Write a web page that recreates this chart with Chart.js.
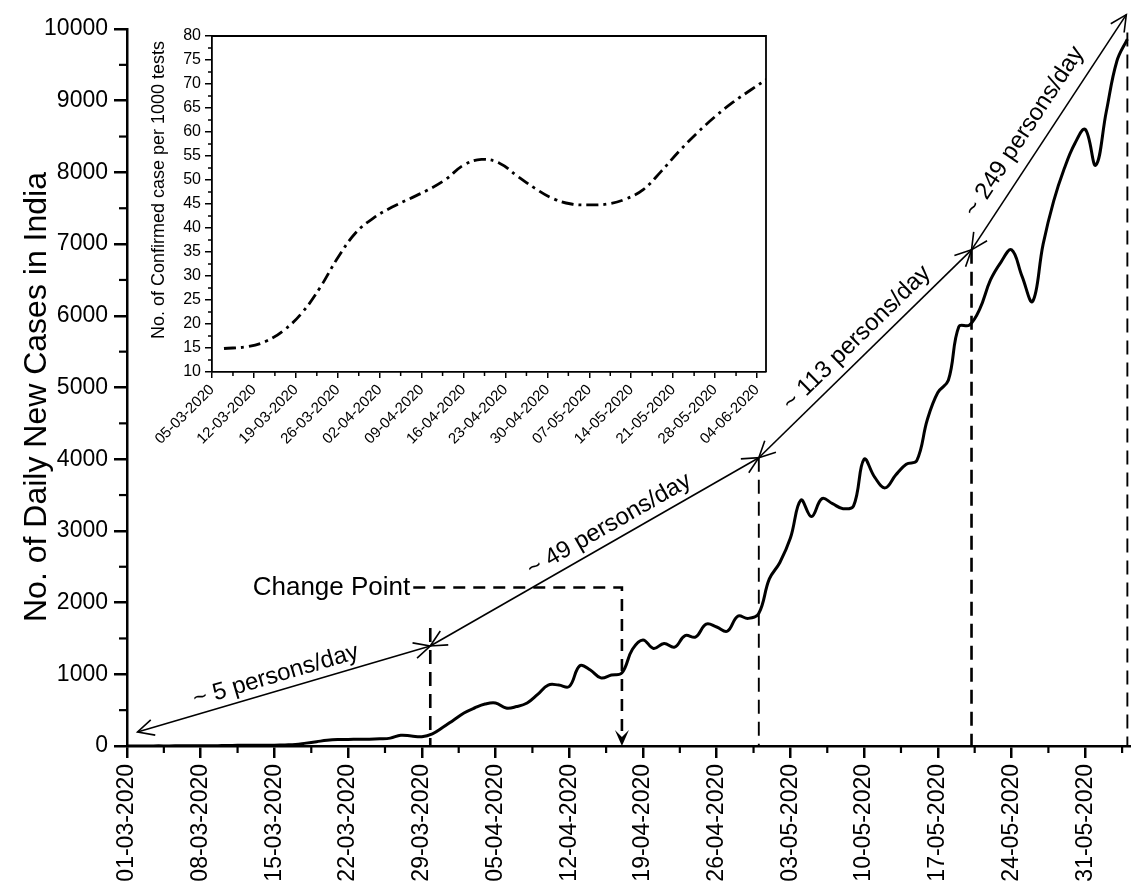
<!DOCTYPE html>
<html>
<head>
<meta charset="utf-8">
<title>Daily New Cases in India</title>
<script src="https://cdn.jsdelivr.net/npm/chart.js@4/dist/chart.umd.min.js"></script>
<style>
  html, body { margin: 0; padding: 0; background: #fff; }
  #wrap { position: relative; width: 1131px; height: 888px; overflow: hidden; }
  #main { position: absolute; left: 0; top: 0; }
  #inset { position: absolute; left: 140px; top: 20px; }
</style>
</head>
<body>
<div id="wrap">
  <canvas id="main" width="1131" height="888"></canvas>
  <canvas id="inset" width="640" height="440"></canvas>
</div>
<script>
// ---- Daily new cases, one value per day starting 01-03-2020 ----
const caseStart = '01-03-2020';
const dailyCases = [
  0, 0, 1, 2, 1, 3, 4, 5, 4, 6,                              // 01-03 .. 10-03
  8, 10, 12, 10, 12, 15, 20, 40, 60, 80,                     // 11-03 .. 20-03
  90, 90, 95, 95, 100, 110, 150, 140, 130, 170,              // 21-03 .. 30-03
  260, 360, 460, 530, 585, 600, 530, 550, 600, 720,          // 31-03 .. 09-04
  850, 850, 830, 1120, 1060, 950, 990, 1020, 1350, 1480,     // 10-04 .. 19-04
  1360, 1430, 1380, 1540, 1520, 1700, 1660, 1600, 1810, 1780,// 20-04 .. 29-04
  1850, 2330, 2560, 2900, 3430, 3200, 3450, 3380, 3310, 3350,// 30-04 .. 09-05
  4000, 3750, 3600, 3780, 3930, 3980, 4550, 4930, 5100, 5850,// 10-05 .. 19-05
  5870, 6100, 6500, 6750, 6920, 6550, 6200, 7000, 7600, 8050,// 20-05 .. 29-05
  8400, 8600, 8100, 8850, 9550, 9860                         // 30-05 .. 04-06
];
const caseTickLabels = [
  '01-03-2020', '08-03-2020', '15-03-2020', '22-03-2020', '29-03-2020',
  '05-04-2020', '12-04-2020', '19-04-2020', '26-04-2020', '03-05-2020',
  '10-05-2020', '17-05-2020', '24-05-2020', '31-05-2020'
];
const caseAxisEndDay = 95.25;
const caseAxisTitle = 'No. of Daily New Cases in India';

// ---- Confirmed cases per 1000 tests ----
const ratioStart = '05-03-2020';
const ratioDates = [
  '07-03-2020', '11-03-2020', '14-03-2020', '17-03-2020', '20-03-2020', '23-03-2020',
  '26-03-2020', '29-03-2020', '01-04-2020', '04-04-2020', '07-04-2020', '10-04-2020',
  '13-04-2020', '16-04-2020', '19-04-2020', '22-04-2020', '25-04-2020', '28-04-2020',
  '01-05-2020', '04-05-2020', '07-05-2020', '10-05-2020', '13-05-2020', '16-05-2020',
  '19-05-2020', '22-05-2020', '25-05-2020', '28-05-2020', '31-05-2020', '03-06-2020',
  '06-06-2020'
];
const ratioValues = [
  14.9, 15.3, 16.4, 18.7, 22.3, 27.5,
  33.8, 39.0, 42.1, 44.3, 46.1, 47.9,
  50.1, 53.1, 54.3, 53.5, 50.8, 48.2,
  46.1, 45.0, 44.8, 45.0, 46.0, 48.0,
  51.8, 56.0, 59.8, 63.2, 66.2, 68.8,
  71.3
];
const ratioTickLabels = [
  '05-03-2020', '12-03-2020', '19-03-2020', '26-03-2020', '02-04-2020',
  '09-04-2020', '16-04-2020', '23-04-2020', '30-04-2020', '07-05-2020',
  '14-05-2020', '21-05-2020', '28-05-2020', '04-06-2020'
];
const ratioAxisEndDay = 92.5;
const ratioAxisTitle = 'No. of Confirmed case per 1000 tests';

// ---- Growth-rate segments (days after 01-03-2020, cases) ----
const rateBreakDays = [1.0, 28.8, 60.0, 80.2, 94.9];
const rateBreakCases = [195, 1395, 4020, 6920, 10200];
const rateLabels = ['~ 5 persons/day', '~ 49 persons/day', '~ 113 persons/day', '~ 249 persons/day'];
const guideDays = [28.8, 60.0, 80.2, 95.0];
const guideTops = [1645, 4020, 6920, 9950];
const changePointDay = 47;
const changePointLevel = 2210;
const changeLabelEndDay = 26.9;

const FONT = "'Liberation Sans', Arial, Helvetica, sans-serif";

function dayIndex(dateStr, startStr) {
  const [d1, m1, y1] = dateStr.split('-').map(Number);
  const [d0, m0, y0] = startStr.split('-').map(Number);
  return Math.round((Date.UTC(y1, m1 - 1, d1) - Date.UTC(y0, m0 - 1, d0)) / 86400000);
}

// Short unlabelled ticks between the labelled ones
const minorTicks = {
  id: 'minorTicks',
  afterDraw(chart, args, opts) {
    const ctx = chart.ctx;
    ctx.save();
    ctx.strokeStyle = '#000';
    ctx.setLineDash([]);
    for (const spec of opts.specs || []) {
      const sc = chart.scales[spec.axis];
      ctx.lineWidth = spec.width;
      for (let v = spec.first; v <= sc.max + 1e-9; v += spec.step) {
        const p = sc.getPixelForValue(v);
        ctx.beginPath();
        if (sc.isHorizontal()) {
          ctx.moveTo(p, sc.top);
          ctx.lineTo(p, sc.top + spec.length);
        } else {
          ctx.moveTo(sc.right, p);
          ctx.lineTo(sc.right - spec.length, p);
        }
        ctx.stroke();
      }
    }
    ctx.restore();
  }
};

// Vertical axis title, placed by its baseline and centre
const sideTitle = {
  id: 'sideTitle',
  afterDraw(chart, args, opts) {
    const ctx = chart.ctx;
    ctx.save();
    ctx.fillStyle = '#000';
    ctx.font = opts.size + 'px ' + FONT;
    ctx.textAlign = 'center';
    ctx.textBaseline = 'alphabetic';
    ctx.translate(opts.baselineX, opts.centerY);
    ctx.rotate(-Math.PI / 2);
    ctx.fillText(opts.text, 0, 0);
    ctx.restore();
  }
};

// Closes the plot box with top and right edges
const frameBox = {
  id: 'frameBox',
  afterDraw(chart, args, opts) {
    const { ctx, chartArea: a } = chart;
    ctx.save();
    ctx.strokeStyle = '#000';
    ctx.lineWidth = opts.width || 1.5;
    ctx.beginPath();
    ctx.moveTo(a.left, a.top);
    ctx.lineTo(a.right, a.top);
    ctx.lineTo(a.right, a.bottom);
    ctx.stroke();
    ctx.restore();
  }
};

function openHead(ctx, tx, ty, fx, fy, len, ang) {
  const t = Math.atan2(ty - fy, tx - fx);
  ctx.beginPath();
  ctx.moveTo(tx - len * Math.cos(t - ang), ty - len * Math.sin(t - ang));
  ctx.lineTo(tx, ty);
  ctx.lineTo(tx - len * Math.cos(t + ang), ty - len * Math.sin(t + ang));
  ctx.stroke();
}

// Rate arrows, guide lines and the change point marker
const rateAnnotations = {
  id: 'rateAnnotations',
  afterDatasetsDraw(chart) {
    const { ctx, scales: { x, y } } = chart;
    const px = d => x.getPixelForValue(d);
    const py = v => y.getPixelForValue(v);
    const guideWidths = [2.6, 1.9, 2.6, 1.9];
    const labelShift = [[-4, 15], [26, 16], [5, 17], [-13, 21]];
    ctx.save();
    ctx.strokeStyle = '#000';
    ctx.fillStyle = '#000';
    ctx.lineCap = 'butt';

    // vertical dashed guides
    guideDays.forEach((d, i) => {
      ctx.lineWidth = guideWidths[i];
      ctx.setLineDash([14, 8]);
      ctx.beginPath();
      ctx.moveTo(px(d), py(guideTops[i]));
      ctx.lineTo(px(d), py(0));
      ctx.stroke();
    });

    // change point
    const cx = px(changePointDay), cy = py(changePointLevel), base = py(0);
    ctx.lineWidth = 2.6;
    ctx.setLineDash([12, 8]);
    ctx.beginPath();
    ctx.moveTo(px(changeLabelEndDay) + 3, cy);
    ctx.lineTo(cx, cy);
    ctx.lineTo(cx, base - 12);
    ctx.stroke();
    ctx.setLineDash([]);
    ctx.beginPath();
    ctx.moveTo(cx, base);
    ctx.lineTo(cx - 7, base - 16);
    ctx.lineTo(cx, base - 9);
    ctx.lineTo(cx + 7, base - 16);
    ctx.closePath();
    ctx.fill();
    ctx.font = '26px ' + FONT;
    ctx.textAlign = 'right';
    ctx.textBaseline = 'middle';
    ctx.fillText('Change Point', px(changeLabelEndDay), cy);

    // double-headed rate arrows with labels
    ctx.setLineDash([]);
    ctx.lineWidth = 1.6;
    ctx.font = '24px ' + FONT;
    ctx.textAlign = 'center';
    for (let i = 0; i < rateLabels.length; i++) {
      const ax = px(rateBreakDays[i]), ay = py(rateBreakCases[i]);
      const bx = px(rateBreakDays[i + 1]), by = py(rateBreakCases[i + 1]);
      ctx.beginPath();
      ctx.moveTo(ax, ay);
      ctx.lineTo(bx, by);
      ctx.stroke();
      openHead(ctx, ax, ay, bx, by, 18, 0.46);
      openHead(ctx, bx, by, ax, ay, 18, 0.46);
      const L = Math.hypot(bx - ax, by - ay);
      const ux = (bx - ax) / L, uy = (by - ay) / L;
      const nx = uy, ny = -ux;
      const [along, normal] = labelShift[i];
      const tx = (ax + bx) / 2 + ux * along + nx * normal;
      const ty = (ay + by) / 2 + uy * along + ny * normal;
      ctx.save();
      ctx.translate(tx, ty);
      ctx.rotate(Math.atan2(uy, ux));
      ctx.fillText(rateLabels[i], 0, 0);
      ctx.restore();
    }
    ctx.restore();
  }
};

new Chart(document.getElementById('main'), {
  type: 'line',
  data: {
    datasets: [{
      data: dailyCases.map((v, i) => ({ x: i, y: v })),
      borderColor: '#000',
      borderWidth: 3,
      pointRadius: 0,
      tension: 0.4,
      fill: false
    }]
  },
  options: {
    responsive: false,
    animation: false,
    events: [],
    layout: { padding: { top: 29, right: 1, left: 0, bottom: 0 } },
    plugins: {
      legend: { display: false },
      tooltip: { enabled: false },
      sideTitle: { text: caseAxisTitle, size: 32, baselineX: 46, centerY: 397 },
      minorTicks: {
        specs: [
          { axis: 'x', first: 3.5, step: 7, length: 7, width: 2.2 },
          { axis: 'y', first: 500, step: 1000, length: 8, width: 2.2 }
        ]
      }
    },
    scales: {
      x: {
        type: 'linear',
        min: 0,
        max: caseAxisEndDay,
        afterFit(s) { s.height = 142; },
        afterBuildTicks(s) { s.ticks = caseTickLabels.map(l => ({ value: dayIndex(l, caseStart) })); },
        border: { display: true, color: '#000', width: 2.5 },
        grid: { display: true, drawOnChartArea: false, drawTicks: true, tickLength: 12, lineWidth: 2.5, tickColor: '#000' },
        ticks: {
          autoSkip: false,
          maxRotation: 90,
          minRotation: 90,
          padding: 6,
          color: '#000',
          font: { family: FONT, size: 23 },
          callback: (v, i) => caseTickLabels[i]
        }
      },
      y: {
        min: 0,
        max: 10000,
        afterFit(s) { s.width = 127; },
        border: { display: true, color: '#000', width: 2.5 },
        grid: { display: true, drawOnChartArea: false, drawTicks: true, tickLength: 13, lineWidth: 2.5, tickColor: '#000' },
        ticks: {
          stepSize: 1000,
          padding: 6,
          color: '#000',
          font: { family: FONT, size: 23 },
          callback: v => String(v)
        }
      }
    }
  },
  plugins: [minorTicks, rateAnnotations, sideTitle]
});

new Chart(document.getElementById('inset'), {
  type: 'line',
  data: {
    datasets: [{
      data: ratioDates.map((d, i) => ({ x: dayIndex(d, ratioStart), y: ratioValues[i] })),
      borderColor: '#000',
      borderWidth: 2.8,
      borderDash: [12, 5, 3, 5],
      pointRadius: 0,
      tension: 0.4,
      fill: false
    }]
  },
  options: {
    responsive: false,
    animation: false,
    events: [],
    layout: { padding: { top: 16, right: 14, left: 0, bottom: 0 } },
    plugins: {
      legend: { display: false },
      tooltip: { enabled: false },
      frameBox: { width: 1.8 },
      sideTitle: { text: ratioAxisTitle, size: 18, baselineX: 24, centerY: 170 },
      minorTicks: {
        specs: [
          { axis: 'x', first: 3.5, step: 7, length: 4, width: 1.5 },
          { axis: 'y', first: 12.5, step: 5, length: 4, width: 1.5 }
        ]
      }
    },
    scales: {
      x: {
        type: 'linear',
        min: 0,
        max: ratioAxisEndDay,
        afterFit(s) { s.height = 88; },
        afterBuildTicks(s) { s.ticks = ratioTickLabels.map(l => ({ value: dayIndex(l, ratioStart) })); },
        border: { display: true, color: '#000', width: 1.8 },
        grid: { display: true, drawOnChartArea: false, drawTicks: true, tickLength: 6, lineWidth: 1.5, tickColor: '#000' },
        ticks: {
          autoSkip: false,
          maxRotation: 45,
          minRotation: 45,
          padding: 3,
          color: '#000',
          font: { family: FONT, size: 15 },
          callback: (v, i) => ratioTickLabels[i]
        }
      },
      y: {
        min: 10,
        max: 80,
        afterFit(s) { s.width = 72; },
        border: { display: true, color: '#000', width: 1.8 },
        grid: { display: true, drawOnChartArea: false, drawTicks: true, tickLength: 7, lineWidth: 1.5, tickColor: '#000' },
        ticks: {
          stepSize: 5,
          padding: 4,
          color: '#000',
          font: { family: FONT, size: 16 }
        }
      }
    }
  },
  plugins: [minorTicks, frameBox, sideTitle]
});
</script>
</body>
</html>
